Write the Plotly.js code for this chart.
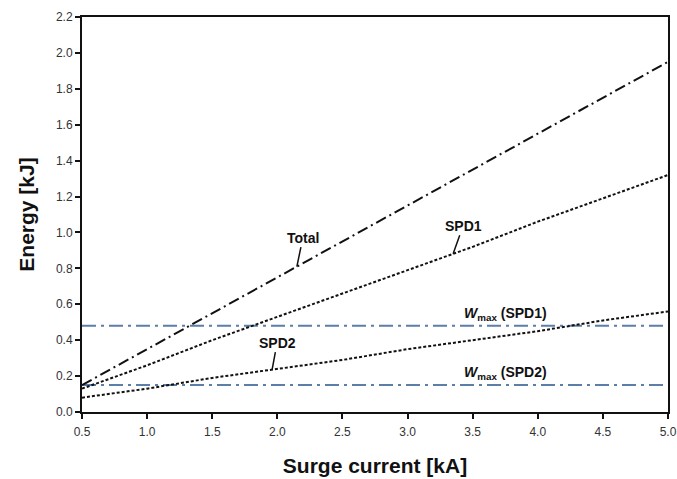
<!DOCTYPE html>
<html>
<head>
<meta charset="utf-8">
<script src="https://cdn.plot.ly/plotly-3.0.1.min.js"></script>
<style>html,body{margin:0;padding:0;background:#fff;}#chart{width:677px;height:479px;}</style>
</head>
<body>
<div id="chart"></div>
<script>
// Data
const current = [0.5, 1.0, 1.5, 2.0, 2.5, 3.0, 3.5, 4.0, 4.5, 5.0];
const totalEnergy = [0.15, 0.35, 0.55, 0.75, 0.95, 1.15, 1.35, 1.55, 1.75, 1.95];
const spd1Energy = [0.13, 0.26, 0.40, 0.53, 0.66, 0.79, 0.92, 1.06, 1.19, 1.32];
const spd2Energy = [0.08, 0.13, 0.19, 0.24, 0.29, 0.35, 0.40, 0.45, 0.51, 0.56];
const wmaxSPD1 = 0.48;
const wmaxSPD2 = 0.15;
const xTicks = [0.5, 1.0, 1.5, 2.0, 2.5, 3.0, 3.5, 4.0, 4.5, 5.0];
const xTickText = ['0.5', '1.0', '1.5', '2.0', '2.5', '3.0', '3.5', '4.0', '4.5', '5.0'];
const yTicks = [0.0, 0.2, 0.4, 0.6, 0.8, 1.0, 1.2, 1.4, 1.6, 1.8, 2.0, 2.2];
const yTickText = ['0.0', '0.2', '0.4', '0.6', '0.8', '1.0', '1.2', '1.4', '1.6', '1.8', '2.0', '2.2'];

const xMin = current[0], xMax = current[current.length - 1];
const blue = '#5b7fa8';

const traces = [
  {x: [xMin, xMax], y: [wmaxSPD1, wmaxSPD1], mode: 'lines', line: {color: blue, width: 2, dash: '14px,5px,3px,5px'}},
  {x: [xMin, xMax], y: [wmaxSPD2, wmaxSPD2], mode: 'lines', line: {color: blue, width: 2, dash: '14px,5px,3px,5px'}},
  {x: current, y: totalEnergy, mode: 'lines', line: {color: '#111', width: 2, dash: '11px,4px,2px,4px'}},
  {x: current, y: spd1Energy, mode: 'lines', line: {color: '#111', width: 2, dash: '3px,2px'}},
  {x: current, y: spd2Energy, mode: 'lines', line: {color: '#111', width: 2, dash: '3px,2px'}}
];

function at(arr, xv) {
  for (let i = 0; i < current.length - 1; i++) {
    if (xv >= current[i] && xv <= current[i + 1]) {
      const t = (xv - current[i]) / (current[i + 1] - current[i]);
      return arr[i] + t * (arr[i + 1] - arr[i]);
    }
  }
  return arr[arr.length - 1];
}

const lblFont = {family: 'Arial, Liberation Sans, sans-serif', size: 14, color: '#111'};
const annotations = [
  {x: 2.15, y: at(totalEnergy, 2.15), xref: 'x', yref: 'y', text: '<b>Total</b>', showarrow: true, arrowhead: 0, arrowwidth: 1.5, arrowcolor: '#111', ax: 6, ay: -29, font: lblFont},
  {x: 3.35, y: at(spd1Energy, 3.35), xref: 'x', yref: 'y', text: '<b>SPD1</b>', showarrow: true, arrowhead: 0, arrowwidth: 1.5, arrowcolor: '#111', ax: 10, ay: -28, font: lblFont},
  {x: 1.96, y: at(spd2Energy, 1.96), xref: 'x', yref: 'y', text: '<b>SPD2</b>', showarrow: true, arrowhead: 0, arrowwidth: 1.5, arrowcolor: '#111', ax: 5, ay: -27, font: lblFont},
  {x: 3.75, y: wmaxSPD1 + 0.065, xref: 'x', yref: 'y', text: '<b><i>W</i><sub>max</sub> (SPD1)</b>', showarrow: false, font: lblFont},
  {x: 3.75, y: wmaxSPD2 + 0.065, xref: 'x', yref: 'y', text: '<b><i>W</i><sub>max</sub> (SPD2)</b>', showarrow: false, font: lblFont}
];

const layout = {
  width: 677, height: 479,
  margin: {l: 82, r: 9, t: 17, b: 67},
  paper_bgcolor: '#fff', plot_bgcolor: '#fff',
  showlegend: false,
  font: {family: 'Arial, Liberation Sans, sans-serif', color: '#222'},
  xaxis: {
    range: [xMin, xMax], tickvals: xTicks, ticktext: xTickText,
    showgrid: false, zeroline: false, showline: true, linecolor: '#111', linewidth: 2, mirror: true,
    ticks: 'outside', ticklen: 5, tickwidth: 2, tickcolor: '#111',
    tickfont: {size: 12, color: '#333'}, ticklabelstandoff: 3,
    title: {text: '<b>Surge current [kA]</b>', font: {size: 21, color: '#111'}, standoff: 20}
  },
  yaxis: {
    range: [0, 2.2], tickvals: yTicks, ticktext: yTickText,
    showgrid: false, zeroline: false, showline: true, linecolor: '#111', linewidth: 2, mirror: true,
    ticks: 'outside', ticklen: 5, tickwidth: 2, tickcolor: '#111',
    tickfont: {size: 12, color: '#333'},
    title: {text: '<b>Energy [kJ]</b>', font: {size: 21, color: '#111'}, standoff: 16}
  },
  annotations: annotations
};

Plotly.newPlot('chart', traces, layout, {displayModeBar: false, staticPlot: true});
</script>
</body>
</html>
